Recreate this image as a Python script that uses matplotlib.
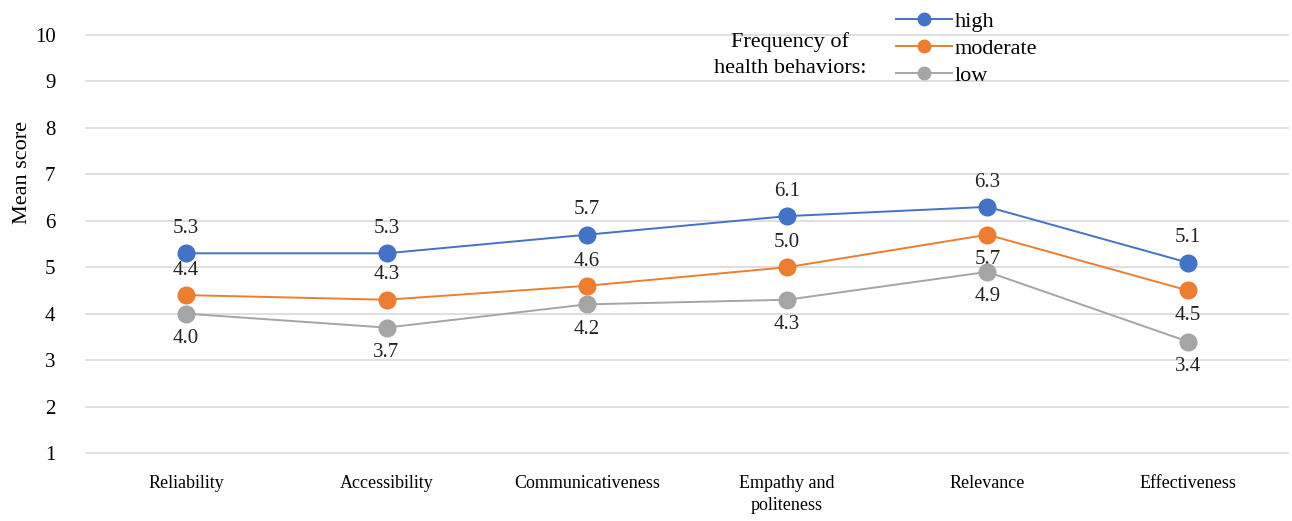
import matplotlib
matplotlib.use("Agg")
import matplotlib.pyplot as plt

categories = ["Reliability", "Accessibility", "Communicativeness",
              "Empathy and\npoliteness", "Relevance", "Effectiveness"]
high = [5.3, 5.3, 5.7, 6.1, 6.3, 5.1]
moderate = [4.4, 4.3, 4.6, 5.0, 5.7, 4.5]
low = [4.0, 3.7, 4.2, 4.3, 4.9, 3.4]
# label placement per point: +1 above, -1 below
moderate_side = [1, 1, 1, 1, -1, -1]

plt.rcParams['font.family'] = ['Liberation Serif', 'DejaVu Serif']

fig = plt.figure(figsize=(12.92, 5.21), dpi=100)
ax = fig.add_axes([86 / 1292, 1 - 453 / 521, 1202 / 1292, 418 / 521])

x = list(range(len(categories)))
series = [
    ("high", high, "#4472C4", [1] * 6),
    ("moderate", moderate, "#ED7D31", moderate_side),
    ("low", low, "#A5A5A5", [-1] * 6),
]
for name, vals, col, sides in series:
    ax.plot(x, vals, color=col, lw=1.4, marker="o", ms=12, label=name, zorder=3,
            clip_on=False)
    for xi, v, s in zip(x, vals, sides):
        ax.annotate(f"{v:.1f}", (xi, v), xytext=(0, 11 * s), textcoords="offset points",
                    ha="center", va="bottom" if s > 0 else "top", fontsize=15,
                    color="#222222")

ax.set_xlim(-0.5, 5.5)
ax.set_ylim(1, 10)
ax.set_yticks(range(1, 11))
ax.set_xticks(x)
ax.set_xticklabels(categories, fontsize=13, linespacing=1.4)
ax.tick_params(axis="y", length=0, pad=22, labelsize=15)
ax.tick_params(axis="x", length=0, pad=16)
ax.grid(axis="y", color="#D9D9D9", lw=1.2)
for gl in ax.get_ygridlines():
    gl.set_clip_on(False)
ax.set_axisbelow(True)
for sp in ax.spines.values():
    sp.set_visible(False)

ax.set_ylabel("Mean score", fontsize=16)
ax.yaxis.set_label_coords(-0.045, 0.67)

leg = ax.legend(loc="upper left", bbox_to_anchor=(896 / 1292, 1 - 11 / 521),
                bbox_transform=fig.transFigure, frameon=False, fontsize=16,
                handlelength=2.5, handletextpad=0.15, labelspacing=0.3,
                borderpad=0, borderaxespad=0, markerscale=0.75)
fig.text(790 / 1292, 1 - 55 / 521, "Frequency of\nhealth behaviors:", ha="center",
         va="center", fontsize=16, linespacing=1.5)

fig.savefig("out.png", dpi=100)
